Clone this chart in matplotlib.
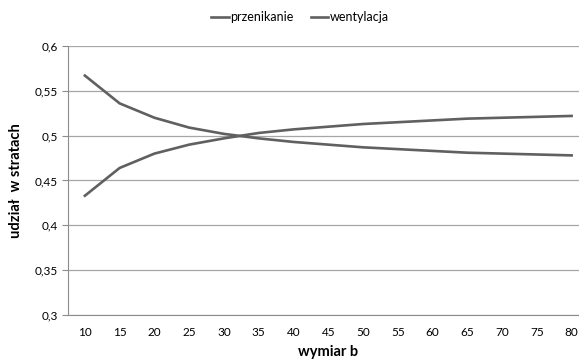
import numpy as np
import matplotlib.pyplot as plt
from matplotlib.ticker import FuncFormatter

# wymiar b (categories)
wymiar_b = [10, 15, 20, 25, 30, 35, 40, 45, 50, 55, 60, 65, 70, 75, 80]

# udzial w stratach
przenikanie = [0.567, 0.536, 0.520, 0.509, 0.502, 0.497, 0.493, 0.490, 0.487,
               0.485, 0.483, 0.481, 0.480, 0.479, 0.478]
wentylacja = [0.433, 0.464, 0.480, 0.490, 0.497, 0.503, 0.507, 0.510, 0.513,
              0.515, 0.517, 0.519, 0.520, 0.521, 0.522]

y_ticks = [0.3, 0.35, 0.4, 0.45, 0.5, 0.55, 0.6]

plt.rcParams['font.family'] = ['Lato', 'DejaVu Sans']

fig = plt.figure(figsize=(5.79, 3.62), dpi=100)
ax = fig.add_axes([67.5 / 579, 1 - 315 / 362, (589 - 67.5) / 579, (315 - 46) / 362])

pos = np.arange(len(wymiar_b))
line_col = '#606060'
ax.plot(pos, przenikanie, color=line_col, linewidth=1.9, label='przenikanie')
ax.plot(pos, wentylacja, color=line_col, linewidth=1.9, label='wentylacja')

ax.set_xlim(-0.5, len(wymiar_b) - 0.5)
ax.set_ylim(0.3, 0.6)
ax.set_xticks(pos)
ax.set_xticklabels([str(v) for v in wymiar_b])
ax.set_yticks(y_ticks)
ax.yaxis.set_major_formatter(FuncFormatter(lambda v, p: f"{v:g}".replace('.', ',')))

ax.grid(True, axis='y', color='#a6a6a6', linewidth=0.9)
ax.set_axisbelow(True)
for s in ['top', 'right']:
    ax.spines[s].set_visible(False)
ax.spines['left'].set_color('#8c8c8c')
ax.spines['bottom'].set_color('#8c8c8c')
ax.tick_params(axis='y', length=4, color='#8c8c8c', labelsize=8.5, pad=3)
ax.tick_params(axis='x', length=0, labelsize=8.5, pad=9)

ax.set_xlabel('wymiar b', fontsize=10.5, fontweight='bold', labelpad=5)
ax.set_ylabel('udział  w stratach', fontsize=10.5, fontweight='bold', labelpad=8)

fig.legend(loc='center', bbox_to_anchor=(300 / 579, 1 - 17 / 362), ncol=2, frameon=False,
           fontsize=9, handlelength=1.4, handletextpad=0.1, columnspacing=1.4)

fig.savefig('out.png', dpi=100)
